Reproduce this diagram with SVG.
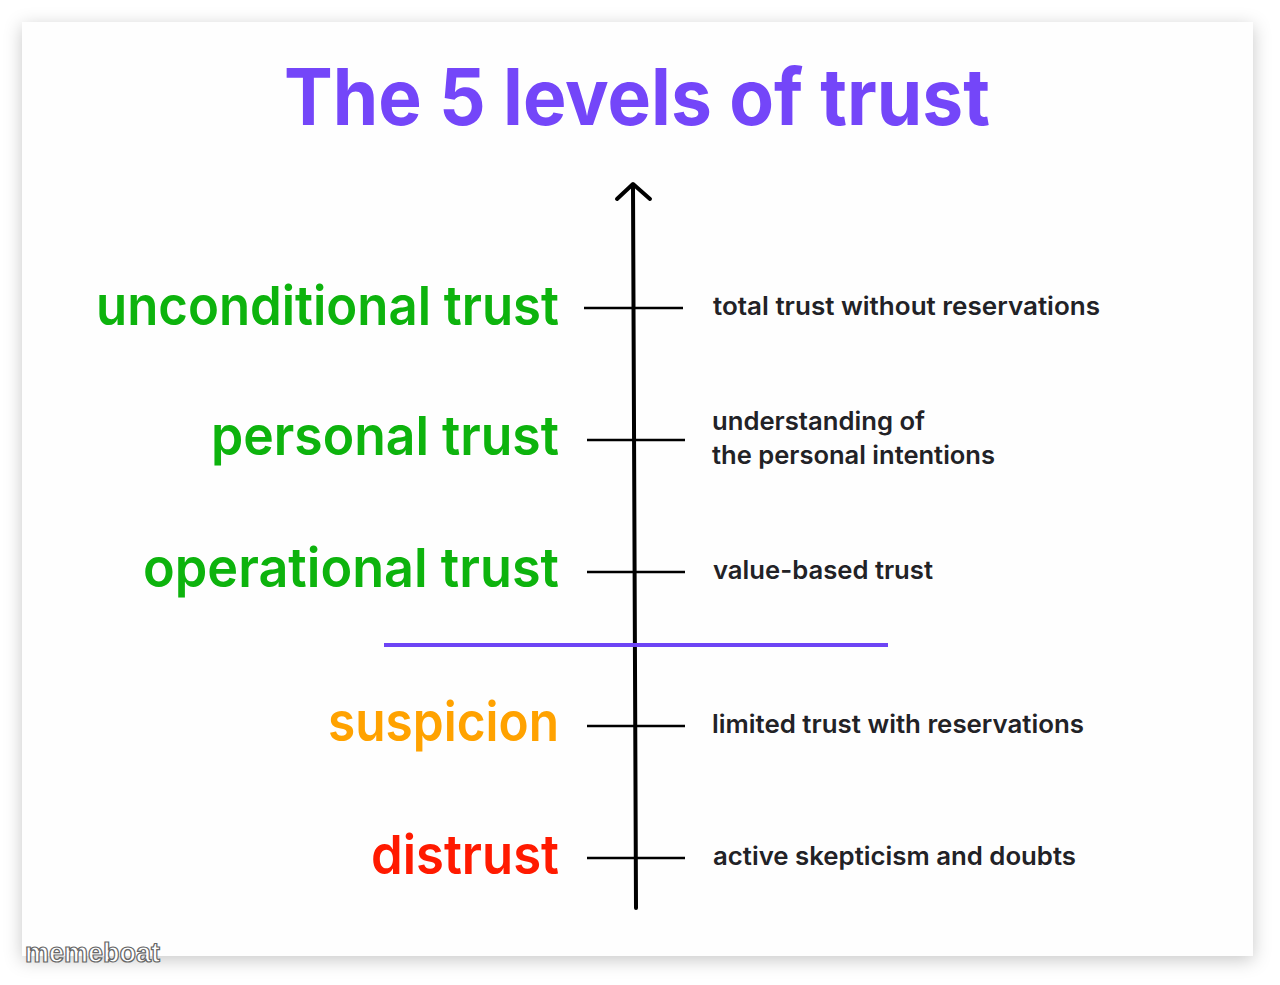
<svg xmlns="http://www.w3.org/2000/svg" width="1280" height="985" viewBox="0 0 1280 985">
  <defs>
    <filter id="shadow" x="-5%" y="-5%" width="110%" height="112%">
      <feDropShadow dx="0" dy="4" stdDeviation="9" flood-color="#000" flood-opacity="0.22"/>
    </filter>
    <style>
      .title { font-family: "Inter", "Liberation Sans", sans-serif; font-weight: 700; font-size: 78px; fill: #7446f9; }
      .lvl { font-family: "Inter", "Liberation Sans", sans-serif; font-weight: 600; font-size: 54px; text-anchor: end; }
      .green { fill: #0db30d; }
      .orange { fill: #ffa200; }
      .red { fill: #ff1a00; }
      .desc { font-family: "Inter", "Liberation Sans", sans-serif; font-weight: 600; font-size: 25px; fill: #222226; }
      .tick { stroke: #000; stroke-width: 2.5; fill: none; }
      .axis { stroke: #000; stroke-width: 4; fill: none; stroke-linecap: round; stroke-linejoin: round; }
      .wm { font-family: "Liberation Sans", sans-serif; font-weight: 700; font-size: 27px; fill: #fff; stroke: #666; stroke-width: 1.2; }
    </style>
  </defs>
  <rect x="0" y="0" width="1280" height="985" fill="#ffffff"/>
  <rect x="22" y="22" width="1231" height="934" fill="#fefefe" filter="url(#shadow)"/>

  <text class="title" x="284" y="125" textLength="706" lengthAdjust="spacingAndGlyphs">The 5 levels of trust</text>

  <g id="connectors">
    <line class="axis" x1="633" y1="186" x2="636" y2="908"/>
    <polyline class="axis" points="617,199 633,184 650,199"/>
    <line class="tick" x1="584" y1="308" x2="683" y2="308"/>
    <line class="tick" x1="587" y1="440" x2="685" y2="440"/>
    <line class="tick" x1="587" y1="572" x2="685" y2="572"/>
    <line class="tick" x1="587" y1="726" x2="685" y2="726"/>
    <line class="tick" x1="587" y1="858" x2="685" y2="858"/>
    <line x1="384" y1="645" x2="888" y2="645" stroke="#6d44f5" stroke-width="4"/>
  </g>

  <g id="unconditional">
    <text class="lvl green" x="559" y="325" textLength="463" lengthAdjust="spacingAndGlyphs">unconditional trust</text>
    <text class="desc" x="713" y="315" textLength="387" lengthAdjust="spacingAndGlyphs">total trust without reservations</text>
  </g>
  <g id="personal">
    <text class="lvl green" x="559" y="455" textLength="348" lengthAdjust="spacingAndGlyphs">personal trust</text>
    <text class="desc" x="712" y="430" textLength="213" lengthAdjust="spacingAndGlyphs">understanding of</text>
    <text class="desc" x="712" y="464" textLength="283" lengthAdjust="spacingAndGlyphs">the personal intentions</text>
  </g>
  <g id="operational">
    <text class="lvl green" x="559" y="587" textLength="416" lengthAdjust="spacingAndGlyphs">operational trust</text>
    <text class="desc" x="713" y="579" textLength="220" lengthAdjust="spacingAndGlyphs">value-based trust</text>
  </g>
  <g id="suspicion">
    <text class="lvl orange" x="559" y="741" textLength="231" lengthAdjust="spacingAndGlyphs">suspicion</text>
    <text class="desc" x="712" y="733" textLength="372" lengthAdjust="spacingAndGlyphs">limited trust with reservations</text>
  </g>
  <g id="distrust">
    <text class="lvl red" x="559" y="874" textLength="188" lengthAdjust="spacingAndGlyphs">distrust</text>
    <text class="desc" x="713" y="865" textLength="363" lengthAdjust="spacingAndGlyphs">active skepticism and doubts</text>
  </g>

  <text class="wm" x="25" y="962" textLength="135" lengthAdjust="spacingAndGlyphs">memeboat</text>
</svg>
